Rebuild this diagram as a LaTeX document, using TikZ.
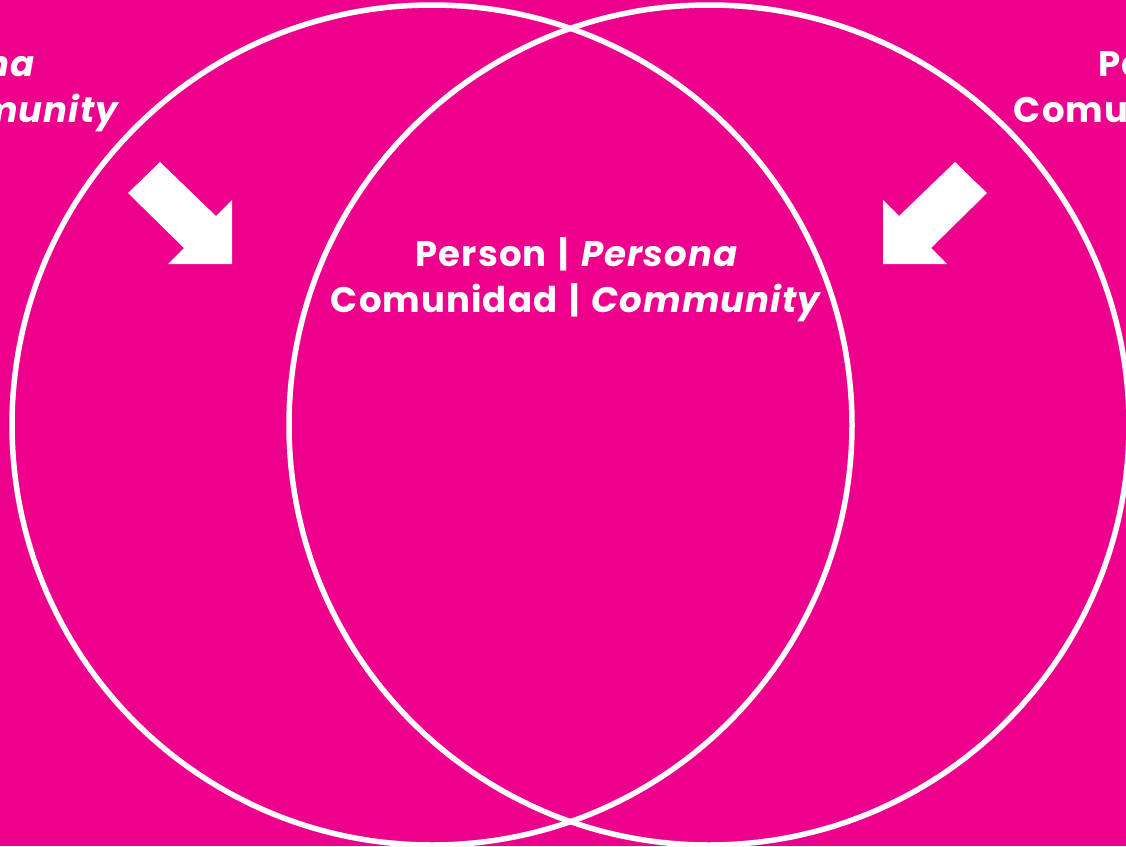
\documentclass[tikz,border=0pt]{standalone}
\usepackage{fontspec}
\setmainfont{Poppins}[LetterSpace=3,WordSpace=1.4]
\definecolor{bgmag}{HTML}{EC008C}
\begin{document}
\begin{tikzpicture}[x=1pt,y=-1pt,
  ring/.style={draw=white,line width=5.5pt},
  bigarrow/.style={fill=white,draw=none},
  label/.style={text=white,font=\fontsize{35.5}{46}\selectfont\bfseries,align=center,inner sep=0pt,anchor=base}]
\useasboundingbox (0,0) rectangle (1126,846);
\clip (0,0) rectangle (1126,846);
\fill[bgmag] (0,0) rectangle (1126,846);
\draw[ring] (432,425) circle[radius=420];
\draw[ring] (709,425) circle[radius=420];
\fill[bigarrow] (160,162) -- (216,216) -- (232,200) -- (232,264) -- (168,264) -- (184,248) -- (128,193) -- cycle;
\fill[bigarrow] (955,162) -- (899,216) -- (883,200) -- (883,264) -- (947,264) -- (931,248) -- (987,193) -- cycle;
\node[label] (mid) at (577,312) {Person | \textit{Persona}\\Comunidad | \textit{Community}};
\node[label] (lft) at (-125,122) {Person | \textit{Persona}\\Comunidad | \textit{Community}};
\node[label] (rgt) at (1260,122) {Person | \textit{Persona}\\Comunidad | \textit{Community}};
\end{tikzpicture}
\end{document}
